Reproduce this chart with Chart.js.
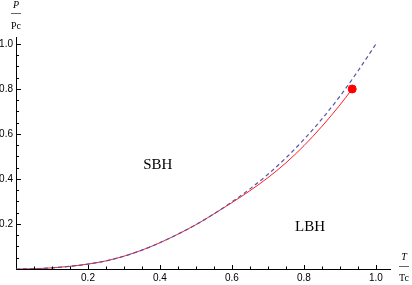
<!DOCTYPE html>
<html>
<head>
<meta charset="utf-8">
<script src="https://cdn.jsdelivr.net/npm/chart.js@4.4.1/dist/chart.umd.min.js"></script>
<style>
  html, body { margin: 0; padding: 0; background: #fff; }
  #wrap { width: 412px; height: 285px; }
</style>
</head>
<body>
<div id="wrap"><canvas id="phaseChart" width="412" height="285"></canvas></div>
<script>
// T/Tc samples and P/Pc
const tBlue = [0, 0.05, 0.1, 0.15, 0.2, 0.25, 0.3, 0.35, 0.4, 0.45, 0.5, 0.55, 0.6, 0.65, 0.7, 0.75, 0.8, 0.85, 0.9, 0.95, 1.0];
const pBlue = [0, 0.001, 0.005, 0.012, 0.022, 0.036, 0.057, 0.084, 0.117, 0.155, 0.197, 0.245, 0.298, 0.356, 0.421, 0.494, 0.576, 0.667, 0.768, 0.880, 1.0];

const tRed = [0.01, 0.05, 0.1, 0.15, 0.2, 0.25, 0.3, 0.35, 0.4, 0.45, 0.5, 0.55, 0.6, 0.65, 0.7, 0.75, 0.8, 0.85, 0.9, 0.934];
const pRed = [0, 0.001, 0.005, 0.012, 0.022, 0.036, 0.057, 0.084, 0.117, 0.155, 0.197, 0.245, 0.295, 0.348, 0.406, 0.472, 0.548, 0.634, 0.729, 0.80];

const criticalPoint = [0.934, 0.80];

const regionLabels = ['SBH', 'LBH'];
const regionPos = [[0.394, 0.462], [0.817, 0.187]];

const zip = (xs, ys) => xs.map((x, i) => ({ x: x, y: ys[i] }));

const isMajor = v => Math.round(v * 100) % 20 === 0 && Math.round(v * 100) !== 0;

// inward ticks, region names, axis fractions
const decorations = {
    id: 'decorations',
    afterDraw(chart) {
        const ctx = chart.ctx;
        const xs = chart.scales.x, ys = chart.scales.y;
        const x0 = xs.getPixelForValue(0), y0 = ys.getPixelForValue(0);
        ctx.save();
        ctx.strokeStyle = '#000';
        ctx.lineWidth = 1;
        ctx.beginPath();
        xs.ticks.forEach(t => {
            if (t.value <= 0) return;
            const px = Math.round(xs.getPixelForValue(t.value)) + 0.5;
            const len = isMajor(t.value) ? 4 : 2.5;
            ctx.moveTo(px, y0);
            ctx.lineTo(px, y0 - len);
        });
        ys.ticks.forEach(t => {
            if (t.value <= 0) return;
            const py = Math.round(ys.getPixelForValue(t.value)) + 0.5;
            const len = isMajor(t.value) ? 5 : 3;
            ctx.moveTo(x0, py);
            ctx.lineTo(x0 + len, py);
        });
        ctx.stroke();

        // region names
        ctx.fillStyle = '#000';
        ctx.font = '15px "Liberation Serif"';
        ctx.textAlign = 'center';
        ctx.textBaseline = 'middle';
        regionLabels.forEach((txt, i) => {
            ctx.fillText(txt, xs.getPixelForValue(regionPos[i][0]), ys.getPixelForValue(regionPos[i][1]));
        });

        // axis labels as fractions
        ctx.textBaseline = 'alphabetic';
        ctx.font = 'italic 10px "Liberation Serif"';
        ctx.fillText('P', 16, 8);
        ctx.fillText('T', 404, 260);
        ctx.font = '10px "Liberation Serif"';
        ctx.fillText('Pc', 16, 29);
        ctx.fillText('Tc', 404, 281);
        ctx.strokeStyle = '#666';
        ctx.beginPath();
        ctx.moveTo(11, 13.5); ctx.lineTo(21, 13.5);
        ctx.moveTo(399, 266.5); ctx.lineTo(409, 266.5);
        ctx.stroke();
        ctx.restore();
    }
};

const ctx = document.getElementById('phaseChart').getContext('2d');
new Chart(ctx, {
    type: 'scatter',
    data: {
        datasets: [
            {
                label: 'critical point',
                data: [{ x: criticalPoint[0], y: criticalPoint[1] }],
                backgroundColor: '#ff0000',
                borderColor: '#ff0000',
                pointRadius: 4,
                order: 0
            },
            {
                label: 'approx',
                data: zip(tBlue, pBlue),
                showLine: true,
                borderColor: '#5555aa',
                borderWidth: 1.2,
                borderDash: [4, 3],
                pointRadius: 0,
                cubicInterpolationMode: 'monotone',
                order: 1
            },
            {
                label: 'coexistence',
                data: zip(tRed, pRed),
                showLine: true,
                borderColor: '#ff2020',
                borderWidth: 1,
                pointRadius: 0,
                cubicInterpolationMode: 'monotone',
                order: 2
            }
        ]
    },
    options: {
        responsive: false,
        animation: false,
        layout: { padding: { top: 37, right: 22, left: 0, bottom: 0 } },
        plugins: {
            legend: { display: false },
            tooltip: { enabled: false }
        },
        scales: {
            x: {
                type: 'linear',
                min: 0,
                max: 1.039,
                afterFit: s => { s.height = 16; },
                grid: { display: true, drawOnChartArea: false, drawTicks: false },
                border: { display: true, color: '#000', width: 1 },
                ticks: {
                    stepSize: 0.05,
                    includeBounds: false,
                    autoSkip: false,
                    maxRotation: 0,
                    padding: 3,
                    color: '#000',
                    font: { family: '"Liberation Sans"', size: 10 },
                    callback: v => isMajor(v) ? v.toFixed(1) : ''
                }
            },
            y: {
                type: 'linear',
                min: 0,
                max: 1.031,
                afterFit: s => { s.width = 16; },
                grid: { display: true, drawOnChartArea: false, drawTicks: false },
                border: { display: true, color: '#000', width: 1 },
                ticks: {
                    stepSize: 0.05,
                    includeBounds: false,
                    autoSkip: false,
                    padding: 3,
                    color: '#000',
                    font: { family: '"Liberation Sans"', size: 10 },
                    callback: v => isMajor(v) ? v.toFixed(1) : ''
                }
            }
        }
    },
    plugins: [decorations]
});
</script>
</body>
</html>
